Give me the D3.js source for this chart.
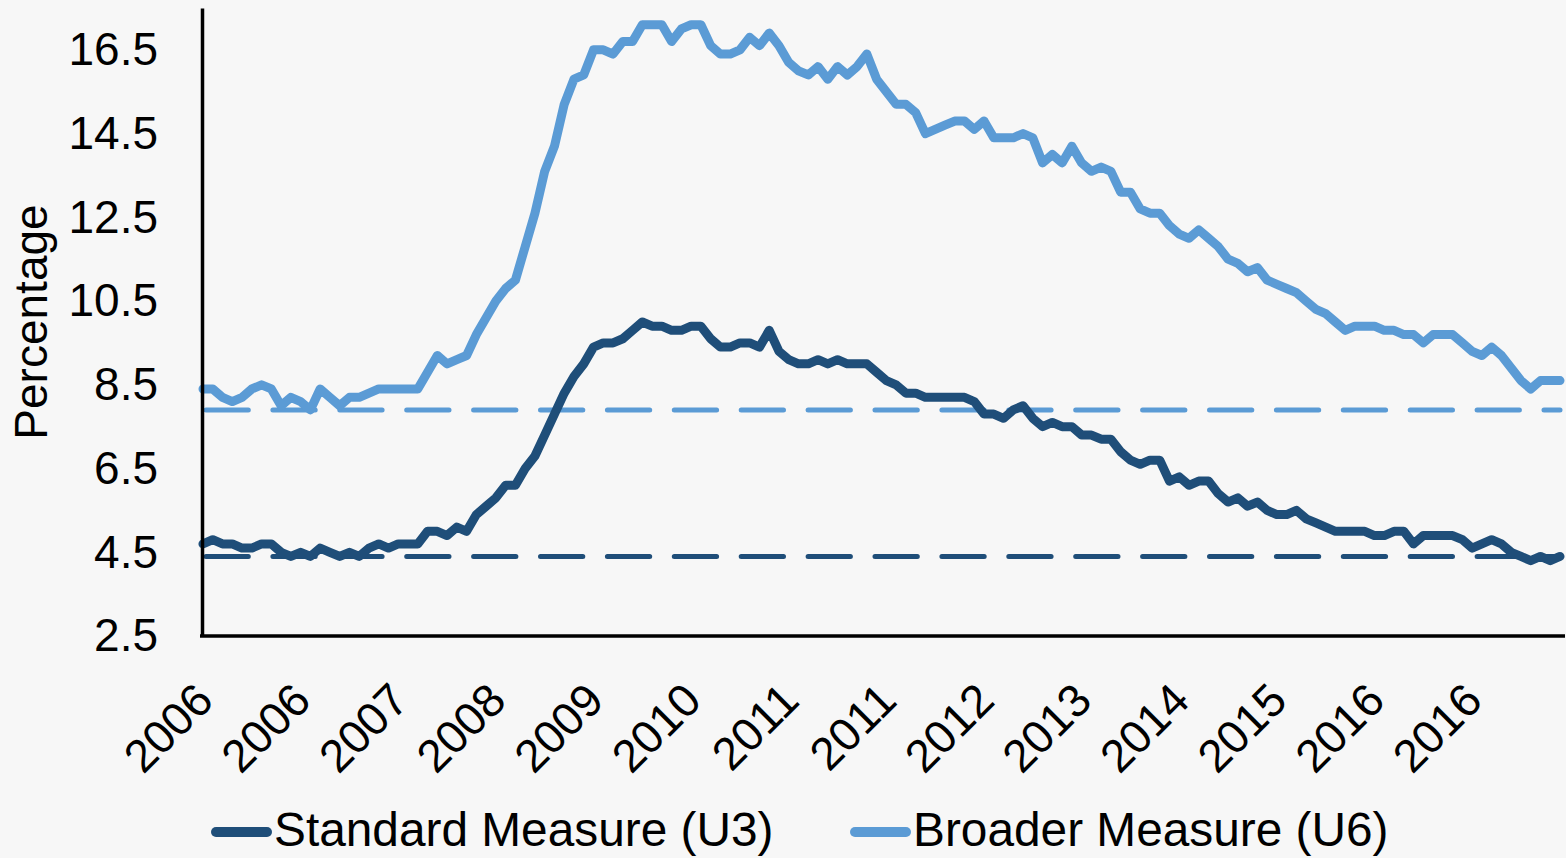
<!DOCTYPE html>
<html>
<head>
<meta charset="utf-8">
<script src="https://cdn.jsdelivr.net/npm/d3@7"></script>
<style>
  html, body { margin: 0; padding: 0; background: #f7f7f7; }
  svg { display: block; font-family: Arial, "Liberation Sans", sans-serif; }
</style>
</head>
<body>
<div id="chart"></div>
<script>
// Monthly unemployment rates, Jan 2006 .. Aug 2017
var months = d3.timeMonth.range( new Date( 2006, 0, 1 ), new Date( 2017, 8, 1 ) ).map( d3.timeFormat( "%Y-%m" ) );

var tickYears = [ "2006", "2006", "2007", "2008", "2009", "2010", "2011", "2011", "2012", "2013", "2014", "2015", "2016", "2016" ];
var yTicks = [ 2.5, 4.5, 6.5, 8.5, 10.5, 12.5, 14.5, 16.5 ];

var u3 = [
    4.7, 4.8, 4.7, 4.7, 4.6, 4.6, 4.7, 4.7, 4.5, 4.4, 4.5, 4.4,
    4.6, 4.5, 4.4, 4.5, 4.4, 4.6, 4.7, 4.6, 4.7, 4.7, 4.7, 5.0,
    5.0, 4.9, 5.1, 5.0, 5.4, 5.6, 5.8, 6.1, 6.1, 6.5, 6.8, 7.3,
    7.8, 8.3, 8.7, 9.0, 9.4, 9.5, 9.5, 9.6, 9.8, 10.0, 9.9, 9.9,
    9.8, 9.8, 9.9, 9.9, 9.6, 9.4, 9.4, 9.5, 9.5, 9.4, 9.8, 9.3,
    9.1, 9.0, 9.0, 9.1, 9.0, 9.1, 9.0, 9.0, 9.0, 8.8, 8.6, 8.5,
    8.3, 8.3, 8.2, 8.2, 8.2, 8.2, 8.2, 8.1, 7.8, 7.8, 7.7, 7.9,
    8.0, 7.7, 7.5, 7.6, 7.5, 7.5, 7.3, 7.3, 7.2, 7.2, 6.9, 6.7,
    6.6, 6.7, 6.7, 6.2, 6.3, 6.1, 6.2, 6.2, 5.9, 5.7, 5.8, 5.6,
    5.7, 5.5, 5.4, 5.4, 5.5, 5.3, 5.2, 5.1, 5.0, 5.0, 5.0, 5.0,
    4.9, 4.9, 5.0, 5.0, 4.7, 4.9, 4.9, 4.9, 4.9, 4.8, 4.6, 4.7,
    4.8, 4.7, 4.5, 4.4, 4.3, 4.4, 4.3, 4.4
];

var u6 = [
    8.4, 8.4, 8.2, 8.1, 8.2, 8.4, 8.5, 8.4, 8.0, 8.2, 8.1, 7.9,
    8.4, 8.2, 8.0, 8.2, 8.2, 8.3, 8.4, 8.4, 8.4, 8.4, 8.4, 8.8,
    9.2, 9.0, 9.1, 9.2, 9.7, 10.1, 10.5, 10.8, 11.0, 11.8, 12.6, 13.6,
    14.2, 15.2, 15.8, 15.9, 16.5, 16.5, 16.4, 16.7, 16.7, 17.1, 17.1, 17.1,
    16.7, 17.0, 17.1, 17.1, 16.6, 16.4, 16.4, 16.5, 16.8, 16.6, 16.9, 16.6,
    16.2, 16.0, 15.9, 16.1, 15.8, 16.1, 15.9, 16.1, 16.4, 15.8, 15.5, 15.2,
    15.2, 15.0, 14.5, 14.6, 14.7, 14.8, 14.8, 14.6, 14.8, 14.4, 14.4, 14.4,
    14.5, 14.4, 13.8, 14.0, 13.8, 14.2, 13.8, 13.6, 13.7, 13.6, 13.1, 13.1,
    12.7, 12.6, 12.6, 12.3, 12.1, 12.0, 12.2, 12.0, 11.8, 11.5, 11.4, 11.2,
    11.3, 11.0, 10.9, 10.8, 10.7, 10.5, 10.3, 10.2, 10.0, 9.8, 9.9, 9.9,
    9.9, 9.8, 9.8, 9.7, 9.7, 9.5, 9.7, 9.7, 9.7, 9.5, 9.3, 9.2,
    9.4, 9.2, 8.9, 8.6, 8.4, 8.6, 8.6, 8.6
];

// dashed reference levels (pre-recession averages)
var refValues = [ 4.4, 7.9 ];

var seriesNames = [ "Standard Measure (U3)", "Broader Measure (U6)" ];
var colors = [ "#1f4e79", "#5b9bd5" ];

var W = 1566, H = 858;

var svg = d3.select( "#chart" ).append( "svg" )
    .attr( "width", W )
    .attr( "height", H );

svg.append( "rect" ).attr( "width", W ).attr( "height", H ).attr( "fill", "#f7f7f7" );

var x = d3.scalePoint().domain( months ).range( [ 203, 1560 ] );
var y = d3.scaleLinear().domain( [ 2.5, 17.5 ] ).range( [ 636, 8 ] );

// dashed reference lines
svg.selectAll( ".ref" )
    .data( refValues )
    .enter().append( "line" )
    .attr( "class", "ref" )
    .attr( "x1", x( months[0] ) + 3 )
    .attr( "x2", x( months[months.length - 1] ) )
    .attr( "y1", function( d ) { return y( d ); } )
    .attr( "y2", function( d ) { return y( d ); } )
    .attr( "stroke", function( d, i ) { return colors[i]; } )
    .attr( "stroke-width", 5 )
    .attr( "stroke-linecap", "round" )
    .attr( "stroke-dasharray", "42.3,24.6" );

// series lines
var line = d3.line()
    .x( function( d, i ) { return x( months[i] ); } )
    .y( function( d ) { return y( d ); } );

[ u3, u6 ].forEach( function( s, i ) {
    svg.append( "path" )
        .datum( s )
        .attr( "d", line )
        .attr( "fill", "none" )
        .attr( "stroke", colors[i] )
        .attr( "stroke-width", 9 )
        .attr( "stroke-linejoin", "round" )
        .attr( "stroke-linecap", "round" );
});

// y axis
var yAxis = svg.append( "g" )
    .attr( "transform", "translate(202,0)" )
    .call( d3.axisLeft( y ).tickValues( yTicks ).tickFormat( d3.format( ".1f" ) ).tickSize( 0 ).tickPadding( 44 ) );
yAxis.select( ".domain" ).attr( "stroke", "#000" ).attr( "stroke-width", 3.5 );
yAxis.selectAll( "text" ).attr( "fill", "#000" ).style( "font-size", "46px" );

// x axis
var xAxis = svg.append( "g" )
    .attr( "transform", "translate(0,636)" )
    .call( d3.axisBottom( x )
        .tickValues( months.filter( function( d, i ) { return i % 10 === 0; } ) )
        .tickFormat( function( d, i ) { return tickYears[i]; } )
        .tickSize( 0 ) );
xAxis.select( ".domain" )
    .attr( "d", "M200,0H1565" )
    .attr( "stroke", "#000" ).attr( "stroke-width", 3.5 );
xAxis.selectAll( "text" )
    .attr( "fill", "#000" )
    .attr( "x", 0 ).attr( "y", 0 ).attr( "dy", 0 )
    .attr( "text-anchor", "end" )
    .attr( "transform", "translate(12,67) rotate(-45)" )
    .style( "font-size", "46px" );

// y axis title
svg.append( "text" )
    .attr( "transform", "translate(47,322) rotate(-90)" )
    .attr( "text-anchor", "middle" )
    .style( "font-size", "46px" )
    .text( "Percentage" );

// legend
var legendX = [ 211, 850 ];
var lg = svg.selectAll( ".legend" )
    .data( seriesNames )
    .enter().append( "g" )
    .attr( "class", "legend" )
    .attr( "transform", function( d, i ) { return "translate(" + legendX[i] + ",832)"; } );
lg.append( "line" )
    .attr( "x1", 5 ).attr( "x2", 56 )
    .attr( "stroke", function( d, i ) { return colors[i]; } )
    .attr( "stroke-width", 10 )
    .attr( "stroke-linecap", "round" );
lg.append( "text" )
    .attr( "x", 63 ).attr( "y", 14 )
    .style( "font-size", "47.8px" )
    .text( function( d ) { return d; } );
</script>
</body>
</html>
